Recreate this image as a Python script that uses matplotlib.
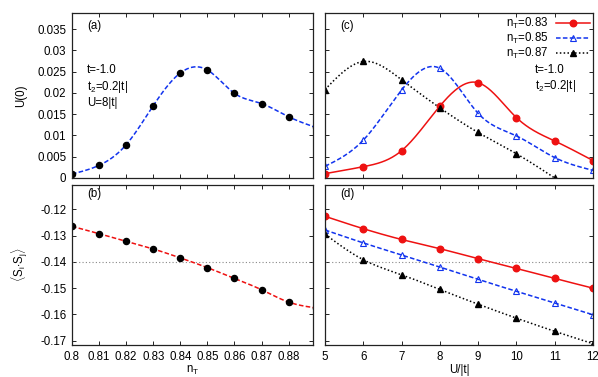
import numpy as np
import matplotlib
matplotlib.use("Agg")
import matplotlib.pyplot as plt

# ---------------- data ----------------
nT = [0.80, 0.81, 0.82, 0.83, 0.84, 0.85, 0.86, 0.87, 0.88, 0.89]
U0_vs_nT = [0.00094, 0.00298, 0.00783, 0.0170, 0.0247, 0.0254, 0.0199, 0.0175, 0.0144, 0.0119]
SS_vs_nT = [-0.1265, -0.1293, -0.1322, -0.1351, -0.1385, -0.1422, -0.1463, -0.1506, -0.1553, -0.1575]

U_over_t = [5, 6, 7, 8, 9, 10, 11, 12]
U0_083 = [0.00102, 0.00266, 0.00642, 0.0169, 0.0224, 0.0142, 0.0087, 0.0041]
U0_085 = [0.00274, 0.0089, 0.0207, 0.0258, 0.0152, 0.0099, 0.0048, 0.0018]
U0_087 = [0.0208, 0.0274, 0.0231, 0.0165, 0.0107, 0.0057, 0.0000]
SS_083 = [-0.1227, -0.1274, -0.1315, -0.1350, -0.1388, -0.1425, -0.1463, -0.1500]
SS_085 = [-0.1279, -0.1328, -0.1374, -0.1420, -0.1467, -0.1512, -0.1557, -0.1601]
SS_087 = [-0.1295, -0.1392, -0.1449, -0.1505, -0.1561, -0.1614, -0.1664, -0.1711]

legend_labels = [r"n$_\mathrm{T}$=0.83", r"n$_\mathrm{T}$=0.85", r"n$_\mathrm{T}$=0.87"]

# ---------------- helpers ----------------
def natural_spline(x, y, n=300):
    x = np.asarray(x, float); y = np.asarray(y, float)
    m = len(x)
    h = np.diff(x)
    A = np.zeros((m, m)); b = np.zeros(m)
    A[0, 0] = 1; A[-1, -1] = 1
    for i in range(1, m - 1):
        A[i, i - 1] = h[i - 1]
        A[i, i] = 2 * (h[i - 1] + h[i])
        A[i, i + 1] = h[i]
        b[i] = 3 * ((y[i + 1] - y[i]) / h[i] - (y[i] - y[i - 1]) / h[i - 1])
    c = np.linalg.solve(A, b)
    xs = np.linspace(x[0], x[-1], n)
    idx = np.clip(np.searchsorted(x, xs) - 1, 0, m - 2)
    dx = xs - x[idx]
    bb = (y[idx + 1] - y[idx]) / h[idx] - h[idx] * (2 * c[idx] + c[idx + 1]) / 3
    dd = (c[idx + 1] - c[idx]) / (3 * h[idx])
    ys = y[idx] + bb * dx + c[idx] * dx ** 2 + dd * dx ** 3
    return xs, ys

plt.rcParams['font.family'] = ['Liberation Sans', 'DejaVu Sans']
plt.rcParams['mathtext.fontset'] = 'custom'
plt.rcParams['mathtext.rm'] = 'Liberation Sans'
plt.rcParams['mathtext.it'] = 'Liberation Sans'
fs = 8.3

W, H = 598, 377
fig = plt.figure(figsize=(W / 100, H / 100), dpi=100)

def ax_at(x0, y0, x1, y1):
    return fig.add_axes([x0 / W, 1 - y1 / H, (x1 - x0) / W, (y1 - y0) / H])

axa = ax_at(72, 13, 313, 178)
axb = ax_at(72, 185, 313, 345)
axc = ax_at(325, 13, 593, 178)
axd = ax_at(325, 185, 593, 345)

for ax in (axa, axb, axc, axd):
    ax.tick_params(direction='in', top=True, right=True, labelsize=fs, length=3, width=0.6, pad=4)
    for s in ax.spines.values():
        s.set_linewidth(0.9)
        s.set_color('#222222')

red = '#ee1111'
blue = '#1133ee'

# (a)
xs, ys = natural_spline(nT, U0_vs_nT)
axa.plot(xs, ys, '--', color=blue, lw=1.1, dashes=(3, 1.5))
axa.plot(nT, U0_vs_nT, 'o', color='black', ms=4.4)
axa.set_xlim(0.8, 0.889)
axa.set_ylim(0, 0.0388)
axa.set_yticks([0, 0.005, 0.01, 0.015, 0.02, 0.025, 0.03, 0.035])
axa.set_yticklabels(['0', '0.005', '0.01', '0.015', '0.02', '0.025', '0.03', '0.035'])
axa.set_xticks(nT[:-1])
axa.set_xticklabels([])
axa.set_ylabel('U(0)', fontsize=fs, labelpad=7)
axa.text(0.8055, 0.0357, '(a)', fontsize=fs, va='center')
axa.text(0.8055, 0.0215, 't=-1.0\nt$_2$=0.2|t|\nU=8|t|', fontsize=fs, va='center', linespacing=1.25)

# (b)
xs, ys = natural_spline(nT, SS_vs_nT)
axb.axhline(-0.14, color='#888888', lw=0.8, ls=(0, (1, 2)))
axb.plot(xs, ys, '--', color=red, lw=1.1, dashes=(3, 1.5))
axb.plot(nT, SS_vs_nT, 'o', color='black', ms=4.4)
axb.set_xlim(0.8, 0.889)
axb.set_ylim(-0.1716, -0.1108)
axb.set_yticks([-0.17, -0.16, -0.15, -0.14, -0.13, -0.12])
axb.set_yticklabels(['-0.17', '-0.16', '-0.15', '-0.14', '-0.13', '-0.12'])
axb.set_xticks(nT[:-1])
axb.set_xticklabels(['0.8', '0.81', '0.82', '0.83', '0.84', '0.85', '0.86', '0.87', '0.88'])
axb.set_xlabel(r'n$_\mathrm{T}$', fontsize=fs, labelpad=1)
axb.set_ylabel(r'$\langle$S$_\mathrm{i}$$\cdot$S$_\mathrm{j}\rangle$', fontsize=fs, labelpad=7)
axb.text(0.8055, -0.1143, '(b)', fontsize=fs, va='center')

# (c)
U7 = U_over_t[:len(U0_087)]
xs, ys = natural_spline(U_over_t, U0_083)
axc.plot(xs, ys, '-', color=red, lw=1.1)
xs, ys = natural_spline(U_over_t, U0_085)
axc.plot(xs, ys, '--', color=blue, lw=1.1, dashes=(3, 1.5))
xs, ys = natural_spline(U7, U0_087)
axc.plot(xs, ys, ':', color='black', lw=1.1, dashes=(1, 1.5))
axc.plot(U_over_t, U0_083, 'o', color=red, ms=4.7)
axc.plot(U_over_t, U0_085, '^', mfc='none', mec=blue, ms=4.7, mew=0.8)
axc.plot(U7, U0_087, '^', color='black', ms=3.7)
h1, = axc.plot([], [], '-o', color=red, lw=1.1, ms=4.7)
h2, = axc.plot([], [], '--^', color=blue, mfc='none', mec=blue, lw=1.1, ms=4.7, mew=0.8, dashes=(3, 1.5))
h3, = axc.plot([], [], ':^', color='black', lw=1.1, ms=3.7, dashes=(1, 1.5))
axc.legend([h1, h2, h3], legend_labels, loc='upper right', markerfirst=False, frameon=False,
           fontsize=fs, handlelength=3.0, labelspacing=0.0, borderaxespad=0.0, borderpad=0.25,
           handletextpad=0.6)
axc.set_xlim(5, 12)
axc.set_ylim(0, 0.0388)
axc.set_yticks([0, 0.005, 0.01, 0.015, 0.02, 0.025, 0.03, 0.035])
axc.set_yticklabels([])
axc.set_xticks(U_over_t)
axc.set_xticklabels([])
axc.text(5.4, 0.0357, '(c)', fontsize=fs, va='center')
axc.text(10.48, 0.0233, 't=-1.0\nt$_2$=0.2|t|', fontsize=fs, va='center', linespacing=1.25)

# (d)
axd.axhline(-0.14, color='#888888', lw=0.8, ls=(0, (1, 2)))
xs, ys = natural_spline(U_over_t, SS_083)
axd.plot(xs, ys, '-', color=red, lw=1.1)
xs, ys = natural_spline(U_over_t, SS_085)
axd.plot(xs, ys, '--', color=blue, lw=1.1, dashes=(3, 1.5))
xs, ys = natural_spline(U_over_t, SS_087)
axd.plot(xs, ys, ':', color='black', lw=1.1, dashes=(1, 1.5))
axd.plot(U_over_t, SS_083, 'o', color=red, ms=4.7)
axd.plot(U_over_t, SS_085, '^', mfc='none', mec=blue, ms=4.7, mew=0.8)
axd.plot(U_over_t, SS_087, '^', color='black', ms=3.7)
axd.set_xlim(5, 12)
axd.set_ylim(-0.1716, -0.1108)
axd.set_yticks([-0.17, -0.16, -0.15, -0.14, -0.13, -0.12])
axd.set_yticklabels([])
axd.set_xticks(U_over_t)
axd.set_xticklabels([str(u) for u in U_over_t])
axd.set_xlabel('U/|t|', fontsize=fs, labelpad=1)
axd.text(5.4, -0.1143, '(d)', fontsize=fs, va='center')

fig.savefig('out.png', dpi=100)
